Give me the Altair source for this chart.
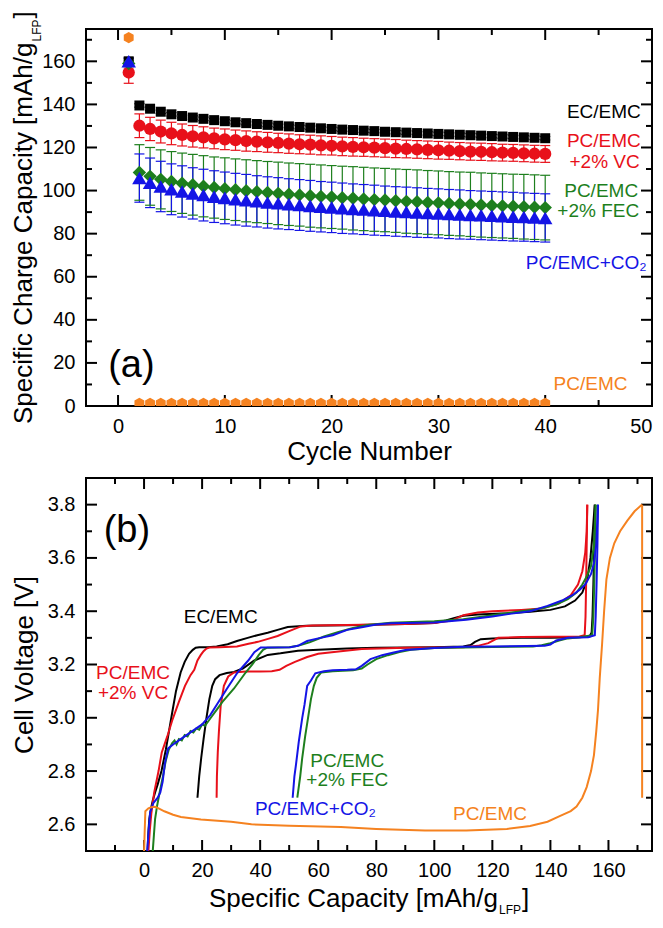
import altair as alt
import pandas as pd

FONT = "Liberation Sans"
W = 566
H1 = 377
H2 = 373

# ---------------- panel (a): capacity vs cycle ----------------
cycles = [1, 2, 3, 4, 5, 6, 7, 8, 9, 10, 11, 12, 13, 14, 15, 16, 17, 18, 19, 20,
          21, 22, 23, 24, 25, 26, 27, 28, 29, 30, 31, 32, 33, 34, 35, 36, 37, 38, 39, 40]
series_a = ["EC/EMC", "PC/EMC +2% VC", "PC/EMC +2% FEC", "PC/EMC+CO2", "PC/EMC"]
colors = ["#000000", "#e8101a", "#1d7f1d", "#1414e6", "#f58220"]

cap_ec = [160.0, 139.5, 138.0, 136.6, 135.4, 134.6, 133.9, 133.3, 132.7, 132.2, 131.7, 131.3, 130.9, 130.5,
          130.1, 129.8, 129.5, 129.2, 128.9, 128.6, 128.3, 128.1, 127.8, 127.6, 127.3, 127.1, 126.9, 126.7,
          126.5, 126.3, 126.1, 125.9, 125.7, 125.5, 125.3, 125.1, 124.9, 124.7, 124.5, 124.3]
err_ec = [1.5, 0.8, 0.8, 0.8, 0.8, 0.8, 0.8, 0.8, 0.8, 0.8, 0.8, 0.8, 0.8, 0.8, 0.8, 0.8, 0.8, 0.8, 0.8, 0.8,
          0.8, 0.8, 0.8, 0.8, 0.8, 0.8, 0.8, 0.8, 0.8, 0.8, 0.8, 0.8, 0.8, 0.8, 0.8, 0.8, 0.8, 0.8, 0.8, 0.8]
cap_vc = [154.8, 130.1, 128.6, 127.4, 126.5, 125.8, 125.2, 124.7, 124.2, 123.8, 123.4, 123.0, 122.7, 122.4,
          122.1, 121.8, 121.5, 121.3, 121.0, 120.8, 120.5, 120.3, 120.1, 119.9, 119.7, 119.5, 119.3, 119.1,
          118.9, 118.7, 118.5, 118.3, 118.1, 118.0, 117.8, 117.6, 117.5, 117.3, 117.1, 117.0]
err_vc = [5.0, 5.5, 5.4, 5.3, 5.2, 5.1, 5.0, 4.9, 4.8, 4.8, 4.7, 4.7, 4.6, 4.6, 4.5, 4.5, 4.4, 4.4, 4.4, 4.3,
          4.3, 4.3, 4.2, 4.2, 4.2, 4.2, 4.1, 4.1, 4.1, 4.1, 4.0, 4.0, 4.0, 4.0, 4.0, 3.9, 3.9, 3.9, 3.9, 3.9]
cap_fec = [159.0, 108.4, 106.6, 105.2, 104.2, 103.4, 102.7, 102.0, 101.4, 100.9, 100.4, 99.9, 99.5, 99.1,
           98.7, 98.3, 98.0, 97.6, 97.3, 97.0, 96.7, 96.4, 96.1, 95.8, 95.6, 95.3, 95.0, 94.8, 94.5, 94.3,
           94.0, 93.8, 93.6, 93.3, 93.1, 92.9, 92.7, 92.5, 92.3, 92.1]
err_fec = [1.5, 12.9, 13.4, 13.7, 13.9, 14.0, 14.1, 14.2, 14.2, 14.3, 14.3, 14.4, 14.4, 14.4, 14.5, 14.5,
           14.5, 14.6, 14.6, 14.6, 14.6, 14.7, 14.7, 14.7, 14.7, 14.7, 14.8, 14.8, 14.8, 14.8, 14.8, 14.8,
           14.9, 14.9, 14.9, 14.9, 14.9, 15.0, 15.0, 15.0]
cap_co2 = [160.0, 105.8, 103.6, 101.9, 100.6, 99.6, 98.7, 97.9, 97.2, 96.6, 96.0, 95.5, 95.0, 94.5, 94.1,
           93.7, 93.3, 92.9, 92.5, 92.2, 91.8, 91.5, 91.2, 90.9, 90.6, 90.3, 90.1, 89.8, 89.6, 89.4, 89.1,
           88.9, 88.7, 88.5, 88.3, 88.1, 87.9, 87.7, 87.5, 87.3]
err_co2 = [1.5, 11.2, 11.5, 11.7, 11.8, 11.9, 11.9, 12.0, 12.0, 12.0, 12.0, 12.0, 11.9, 11.9, 11.9, 11.8,
           11.8, 11.8, 11.7, 11.7, 11.7, 11.6, 11.6, 11.6, 11.5, 11.5, 11.5, 11.5, 11.4, 11.4, 11.4, 11.4,
           11.3, 11.3, 11.3, 11.3, 11.3, 11.2, 11.2, 11.2]
cap_pc = [171.0, 1.2, 1.2, 1.2, 1.2, 1.2, 1.2, 1.2, 1.2, 1.2, 1.2, 1.2, 1.2, 1.2, 1.2, 1.2, 1.2, 1.2, 1.2, 1.2,
          1.2, 1.2, 1.2, 1.2, 1.2, 1.2, 1.2, 1.2, 1.2, 1.2, 1.2, 1.2, 1.2, 1.2, 1.2, 1.2, 1.2, 1.2, 1.2, 1.2]
err_pc = [0, 0, 0, 0, 0, 0, 0, 0, 0, 0, 0, 0, 0, 0, 0, 0, 0, 0, 0, 0,
          0, 0, 0, 0, 0, 0, 0, 0, 0, 0, 0, 0, 0, 0, 0, 0, 0, 0, 0, 0]

a_x_major = [0, 10, 20, 30, 40, 50]
a_x_minor = [5, 15, 25, 35, 45]
a_y_major = [0, 20, 40, 60, 80, 100, 120, 140, 160]
a_y_minor = [10, 30, 50, 70, 90, 110, 130, 150, 170]

# ---------------- panel (b): voltage profiles ----------------
ec_chg_x = [1.2, 1.5, 1.8, 2.4, 3.0, 3.8, 4.7, 6.0, 7.5, 8.6, 9.7, 11.0, 12.6, 14.0, 15.5, 16.8, 17.8, 19.0,
            22.0, 25.0, 28.8, 32.0, 35.7, 39.0, 42.6, 46.0, 49.5, 52.0, 56.0, 70.0, 90.0, 100.0, 104.0, 107.0,
            110.0, 115.0, 125.0, 133.0, 140.0, 145.0, 148.5, 151.0, 152.7, 153.8, 154.6, 155.0, 155.3]
ec_chg_v = [2.50, 2.57, 2.62, 2.66, 2.69, 2.72, 2.75, 2.80, 2.88, 2.95, 3.02, 3.10, 3.17, 3.21, 3.24, 3.255,
            3.263, 3.265, 3.265, 3.268, 3.276, 3.288, 3.300, 3.310, 3.319, 3.330, 3.341, 3.343, 3.345, 3.347,
            3.352, 3.356, 3.365, 3.375, 3.383, 3.388, 3.392, 3.398, 3.405, 3.418, 3.44, 3.47, 3.52, 3.60,
            3.70, 3.76, 3.80]
ec_dis_x = [155.3, 155.1, 154.8, 154.5, 154.2, 153.5, 150.0, 140.0, 130.0, 120.0, 116.0, 114.0, 112.5, 110.0,
            100.0, 80.0, 70.0, 60.0, 53.0, 47.0, 42.6, 38.0, 34.0, 31.0, 28.5, 26.0, 24.5, 23.5, 22.5, 21.5,
            20.5, 19.7, 19.0, 18.4]
ec_dis_v = [3.80, 3.65, 3.50, 3.38, 3.32, 3.305, 3.302, 3.300, 3.300, 3.298, 3.295, 3.285, 3.273, 3.268,
            3.265, 3.263, 3.260, 3.255, 3.252, 3.242, 3.236, 3.215, 3.185, 3.172, 3.168, 3.160, 3.145, 3.120,
            3.070, 3.000, 2.920, 2.850, 2.780, 2.700]
vc_chg_x = [1.5, 2.0, 2.5, 3.5, 5.0, 6.1, 8.0, 9.7, 12.0, 14.1, 16.0, 17.3, 18.4, 19.5, 20.5, 21.5, 22.5, 26.0,
            32.0, 36.0, 39.2, 43.0, 46.0, 50.0, 54.0, 58.0, 70.0, 90.0, 100.0, 106.0, 110.0, 115.0, 120.0,
            130.0, 137.0, 143.0, 147.0, 149.5, 151.0, 152.0, 152.5, 152.7]
vc_chg_v = [2.50, 2.58, 2.64, 2.72, 2.80, 2.87, 2.93, 2.99, 3.06, 3.12, 3.16, 3.18, 3.215, 3.235, 3.25, 3.26,
            3.264, 3.265, 3.268, 3.278, 3.285, 3.297, 3.307, 3.325, 3.343, 3.346, 3.348, 3.352, 3.356, 3.365,
            3.385, 3.395, 3.40, 3.405, 3.41, 3.43, 3.46, 3.50, 3.55, 3.62, 3.70, 3.80]
vc_dis_x = [152.7, 152.5, 152.3, 152.1, 151.8, 150.0, 130.0, 122.0, 118.6, 115.0, 110.0, 90.0, 75.0, 67.8,
            60.0, 56.2, 52.0, 49.0, 46.7, 44.0, 40.0, 35.0, 31.0, 29.0, 27.5, 26.4, 25.8, 25.4, 25.1, 25.0]
vc_dis_v = [3.80, 3.65, 3.50, 3.38, 3.31, 3.305, 3.303, 3.300, 3.28, 3.27, 3.265, 3.263, 3.258, 3.25, 3.24,
            3.228, 3.21, 3.195, 3.18, 3.175, 3.174, 3.174, 3.17, 3.155, 3.12, 3.045, 2.95, 2.87, 2.78, 2.70]
fec_chg_x = [3.0, 3.4, 3.8, 4.5, 5.3, 6.5, 7.5, 8.5, 9.7, 10.5, 11.2, 12.0, 13.0, 14.0, 15.0, 16.0, 17.0,
             18.0, 19.0, 20.0, 21.0, 23.0, 25.0, 27.0, 29.0, 31.0, 33.0, 35.0, 37.3, 39.5, 41.0, 42.4, 50.0,
             53.0, 57.0, 62.0, 67.0, 72.0, 77.0, 85.0, 100.0, 110.0, 120.0, 130.0, 137.0, 142.0, 146.0,
             149.0, 151.0, 152.5, 154.0, 155.0, 155.6]
fec_chg_v = [2.50, 2.56, 2.62, 2.67, 2.716, 2.78, 2.84, 2.88, 2.905, 2.915, 2.90, 2.92, 2.915, 2.935, 2.93,
             2.95, 2.945, 2.96, 2.955, 2.975, 2.97, 3.00, 3.03, 3.06, 3.085, 3.11, 3.14, 3.17, 3.20, 3.235,
             3.255, 3.263, 3.265, 3.27, 3.283, 3.305, 3.322, 3.337, 3.348, 3.357, 3.362, 3.37, 3.385, 3.40,
             3.41, 3.425, 3.445, 3.47, 3.50, 3.53, 3.57, 3.65, 3.80]
fec_dis_x = [155.6, 155.4, 155.1, 154.8, 154.4, 150.0, 146.0, 143.0, 140.0, 137.0, 134.0, 120.0, 100.0, 92.0,
             88.0, 84.0, 80.0, 77.0, 75.0, 72.0, 65.0, 61.0, 59.5, 58.5, 57.5, 56.5, 55.5, 54.5, 53.8, 52.8]
fec_dis_v = [3.80, 3.65, 3.50, 3.38, 3.31, 3.302, 3.298, 3.29, 3.28, 3.272, 3.268, 3.266, 3.262, 3.255,
             3.247, 3.235, 3.22, 3.20, 3.185, 3.178, 3.175, 3.17, 3.15, 3.12, 3.07, 3.00, 2.93, 2.85, 2.78,
             2.70]
co2_chg_x = [1.1, 1.6, 2.1, 3.2, 4.7, 5.6, 6.4, 7.2, 8.3, 10.0, 12.0, 14.0, 16.0, 18.0, 20.0, 22.8, 25.7,
             28.6, 32.2, 35.9, 38.0, 40.2, 50.4, 53.0, 56.2, 60.0, 65.0, 70.0, 75.0, 80.0, 85.0, 100.0, 111.0,
             120.0, 126.0, 133.0, 139.0, 144.0, 147.6, 150.0, 152.0, 154.0, 155.0, 155.8, 156.4]
co2_chg_v = [2.50, 2.58, 2.646, 2.68, 2.70, 2.72, 2.76, 2.83, 2.885, 2.90, 2.915, 2.93, 2.945, 2.96, 2.975,
             3.01, 3.06, 3.11, 3.17, 3.215, 3.246, 3.264, 3.265, 3.27, 3.288, 3.298, 3.31, 3.33, 3.34, 3.35,
             3.355, 3.358, 3.368, 3.38, 3.39, 3.40, 3.42, 3.44, 3.46, 3.48, 3.50, 3.54, 3.58, 3.65, 3.80]
co2_dis_x = [156.4, 156.2, 155.9, 155.6, 155.3, 153.0, 146.0, 142.0, 140.0, 138.0, 120.0, 110.0, 100.0, 95.0,
             90.0, 86.0, 82.0, 78.0, 75.0, 73.0, 70.0, 65.0, 62.0, 59.0, 57.5, 56.2, 55.3, 54.5, 53.3, 52.3,
             51.8, 51.2]
co2_dis_v = [3.80, 3.65, 3.50, 3.38, 3.31, 3.302, 3.300, 3.29, 3.275, 3.27, 3.268, 3.267, 3.262, 3.258,
             3.254, 3.245, 3.235, 3.22, 3.195, 3.182, 3.18, 3.178, 3.175, 3.167, 3.14, 3.12, 3.05, 3.00, 2.91,
             2.82, 2.78, 2.70]
pc_chg_x = [0.0, 0.45, 1.5, 2.5, 3.8, 5.0, 7.0, 10.0, 12.7, 19.6, 30.0, 37.0, 50.0, 67.8, 80.0, 96.8, 111.0,
            125.0, 133.0, 139.0, 143.0, 147.0, 149.0, 151.0, 152.5, 154.0, 155.0, 155.8, 156.4, 157.0, 157.8,
            158.5, 159.3, 160.5, 162.0, 164.0, 166.5, 169.0, 171.0, 171.6]
pc_chg_v = [2.50, 2.649, 2.66, 2.664, 2.666, 2.66, 2.649, 2.636, 2.628, 2.618, 2.61, 2.60, 2.595, 2.59, 2.583,
            2.577, 2.577, 2.583, 2.594, 2.61, 2.63, 2.65, 2.667, 2.70, 2.74, 2.80, 2.86, 2.95, 3.03, 3.15,
            3.276, 3.40, 3.52, 3.60, 3.655, 3.70, 3.74, 3.775, 3.795, 3.80]
pc_dis_x = [171.6, 171.6]
pc_dis_v = [3.80, 2.70]

b_x_major = [0, 20, 40, 60, 80, 100, 120, 140, 160]
b_x_minor = [-10, 10, 30, 50, 70, 90, 110, 130, 150, 170]
b_y_major = [2.6, 2.8, 3.0, 3.2, 3.4, 3.6, 3.8]
b_y_minor = [2.7, 2.9, 3.1, 3.3, 3.5, 3.7]

# ---------------- domains ----------------
XA_DOM = [-3, 50]
YA_DOM = [0, 175]
XB_DOM = [-20, 175]
YB_DOM = [2.5, 3.9]


def tick_segments(xmaj, xmin, ymaj, ymin, xdom, ydom, H):
    """Inward frame-tick segments on all four sides, in data units (lengths given in pixels)."""
    ky = (ydom[1] - ydom[0]) / H
    kx = (xdom[1] - xdom[0]) / W
    vert, horiz = [], []
    for vals, ln in ((xmaj, 11.0), (xmin, 6.0)):
        for t in vals:
            vert.append((t, ydom[0], ydom[0] + ln * ky))
            vert.append((t, ydom[1], ydom[1] - ln * ky))
    for vals, ln in ((ymaj, 11.0), (ymin, 6.0)):
        for t in vals:
            horiz.append((t, xdom[0], xdom[0] + ln * kx))
            horiz.append((t, xdom[1], xdom[1] - ln * kx))
    return vert, horiz


# ---------------- tables ----------------
rows = []
vseg, hseg = [], []
for name, vals, errs in zip(series_a, [cap_ec, cap_vc, cap_fec, cap_co2, cap_pc],
                            [err_ec, err_vc, err_fec, err_co2, err_pc]):
    for c, v, e in zip(cycles, vals, errs):
        rows.append({"series": name, "cycle": c, "cap": v})
        if e > 0:
            vseg.append({"series": name, "x0": c, "y0": v - e, "y1": v + e, "w": 1.2})
            hseg.append({"series": name, "x0": c - 0.47, "x1": c + 0.47, "y0": v + e, "w": 1.2})
            hseg.append({"series": name, "x0": c - 0.47, "x1": c + 0.47, "y0": v - e, "w": 1.2})
dfA = pd.DataFrame(rows)

vtA, htA = tick_segments(a_x_major, a_x_minor, a_y_major, a_y_minor, XA_DOM, YA_DOM, H1)
for t, a, b in vtA:
    vseg.append({"series": "frame", "x0": t, "y0": a, "y1": b, "w": 2.0})
for t, a, b in htA:
    hseg.append({"series": "frame", "x0": a, "x1": b, "y0": t, "w": 2.0})
dfV = pd.DataFrame(vseg)
dfH = pd.DataFrame(hseg)

curves = [
    ("EC/EMC", "ec_c", ec_chg_x, ec_chg_v), ("EC/EMC", "ec_d", ec_dis_x, ec_dis_v),
    ("PC/EMC +2% VC", "vc_c", vc_chg_x, vc_chg_v), ("PC/EMC +2% VC", "vc_d", vc_dis_x, vc_dis_v),
    ("PC/EMC +2% FEC", "fec_c", fec_chg_x, fec_chg_v), ("PC/EMC +2% FEC", "fec_d", fec_dis_x, fec_dis_v),
    ("PC/EMC+CO2", "co2_c", co2_chg_x, co2_chg_v), ("PC/EMC+CO2", "co2_d", co2_dis_x, co2_dis_v),
    ("PC/EMC", "pc_c", pc_chg_x, pc_chg_v), ("PC/EMC", "pc_d", pc_dis_x, pc_dis_v),
]
rowsB = []
vtB, htB = tick_segments(b_x_major, b_x_minor, b_y_major, b_y_minor, XB_DOM, YB_DOM, H2)
k = 0
for t, a, b in vtB:
    rowsB.append({"series": "frame", "curve": "tk%d" % k, "idx": 0, "q": t, "v": a})
    rowsB.append({"series": "frame", "curve": "tk%d" % k, "idx": 1, "q": t, "v": b})
    k += 1
for t, a, b in htB:
    rowsB.append({"series": "frame", "curve": "tk%d" % k, "idx": 0, "q": a, "v": t})
    rowsB.append({"series": "frame", "curve": "tk%d" % k, "idx": 1, "q": b, "v": t})
    k += 1
for name, cid, xs, vs in curves:
    for i, (x, v) in enumerate(zip(xs, vs)):
        rowsB.append({"series": name, "curve": cid, "idx": i, "q": x, "v": v})
dfB = pd.DataFrame(rowsB)

dummy = pd.DataFrame({"d": [0]})

# ---------------- scales / axes ----------------
xsA = alt.Scale(domain=XA_DOM, nice=False, zero=False)
ysA = alt.Scale(domain=YA_DOM, nice=False, zero=False)
xsB = alt.Scale(domain=XB_DOM, nice=False, zero=False)
ysB = alt.Scale(domain=YB_DOM, nice=False, zero=False)

axXA = alt.Axis(values=a_x_major, format="d", title="Cycle Number", titleX=W / 2, titleY=53,
                titleBaseline="alphabetic", titleAlign="center", labelPadding=10)
axYA = alt.Axis(values=a_y_major, format="d", title=None, labelPadding=11)
axXB = alt.Axis(values=b_x_major, format="d", title=None, labelPadding=9)
axYB = alt.Axis(values=b_y_major, format=".1f", title="Cell Voltage [V]", titleAngle=270, titleX=-54,
                titleY=H2 / 2, titleBaseline="alphabetic", titleAlign="center", labelPadding=11)

colA = alt.Color("series:N", scale=alt.Scale(domain=series_a + ["frame"], range=colors + ["#000000"]),
                 legend=None)
widthEnc = alt.StrokeWidth("w:Q", scale=None, legend=None)


def XA(f):
    return alt.X(f, type="quantitative", scale=xsA, axis=axXA)


def YA(f):
    return alt.Y(f, type="quantitative", scale=ysA, axis=axYA)


def XB(f):
    return alt.X(f, type="quantitative", scale=xsB, axis=axXB)


def YB(f):
    return alt.Y(f, type="quantitative", scale=ysB, axis=axYB)


def dXA(v):
    return alt.XDatum(v, type="quantitative", scale=xsA, axis=axXA)


def dYA(v):
    return alt.YDatum(v, type="quantitative", scale=ysA, axis=axYA)


def dXB(v):
    return alt.XDatum(v, type="quantitative", scale=xsB, axis=axXB)


def dYB(v):
    return alt.YDatum(v, type="quantitative", scale=ysB, axis=axYB)


def dtext(text, color, x, y, align, size, X, Y):
    return alt.Chart(dummy).mark_text(text=text, color=color, align=align, baseline="middle",
                                      font=FONT, fontSize=size).encode(x=X(x), y=Y(y))


def ptext(text, x, y, align, size, angle=0):
    return alt.Chart(dummy).mark_text(text=text, color="black", align=align, baseline="alphabetic",
                                      font=FONT, fontSize=size, angle=angle).encode(
        x=alt.value(x), y=alt.value(y))


# ---------------- panel (a) layers ----------------
vrules = alt.Chart(dfV).mark_rule(clip=True).encode(
    x=XA("x0"), y=YA("y0"), y2="y1:Q", color=colA, strokeWidth=widthEnc)
hrules = alt.Chart(dfH).mark_rule(clip=True).encode(
    x=XA("x0"), x2="x1:Q", y=YA("y0"), color=colA, strokeWidth=widthEnc)

hexagon = "M0,-1L0.866,-0.5L0.866,0.5L0,1L-0.866,0.5L-0.866,-0.5Z"
shapes = ["square", "circle", "diamond", "triangle-up", hexagon]
sizes = [100, 150, 180, 210, 130]
markers = []
for name, col, shp, sz in zip(series_a, colors, shapes, sizes):
    markers.append(alt.Chart(dfA[dfA.series == name]).mark_point(
        shape=shp, size=sz, color=col, filled=True, opacity=1, strokeWidth=0, clip=True).encode(
        x=XA("cycle"), y=YA("cap")))

ann_a = [
    dtext("EC/EMC", colors[0], 48.95, 136.4, "right", 19, dXA, dYA),
    dtext("PC/EMC", colors[1], 48.95, 123.1, "right", 19, dXA, dYA),
    dtext("+2% VC", colors[1], 48.85, 113.2, "right", 19, dXA, dYA),
    dtext("PC/EMC", colors[2], 48.7, 99.6, "right", 19, dXA, dYA),
    dtext("+2% FEC", colors[2], 48.8, 90.3, "right", 19, dXA, dYA),
    dtext("PC/EMC+CO₂", colors[3], 49.5, 66.6, "right", 19, dXA, dYA),
    dtext("PC/EMC", colors[4], 47.7, 10.4, "right", 19, dXA, dYA),
    dtext("(a)", "black", 1.25, 18.5, "center", 38, dXA, dYA),
]
ytitle_a = [
    ptext("Specific Charge Capacity [mAh/g", -54, 13.5, "right", 26, 270),
    ptext("LFP", -45, 12.5, "left", 12, 270),
    ptext("]", -54, -10.5, "left", 26, 270),
]

panel_a = alt.layer(vrules, hrules, *markers, *ann_a, *ytitle_a).properties(width=W, height=H1)

# ---------------- panel (b) layers ----------------
lines = alt.Chart(dfB).mark_line(strokeWidth=2, clip=True).encode(
    x=XB("q"), y=YB("v"), color=colA, detail="curve:N", order="idx:Q")

ann_b = [
    dtext("EC/EMC", colors[0], 26.4, 3.377, "center", 19, dXB, dYB),
    dtext("PC/EMC", colors[1], -3.8, 3.167, "center", 19, dXB, dYB),
    dtext("+2% VC", colors[1], -3.8, 3.094, "center", 19, dXB, dYB),
    dtext("PC/EMC", colors[2], 70.0, 2.838, "center", 19, dXB, dYB),
    dtext("+2% FEC", colors[2], 70.0, 2.767, "center", 19, dXB, dYB),
    dtext("PC/EMC+CO₂", colors[3], 38.2, 2.659, "left", 19, dXB, dYB),
    dtext("PC/EMC", colors[4], 119.2, 2.637, "center", 19, dXB, dYB),
    dtext("(b)", "black", -5.9, 3.70, "center", 38, dXB, dYB),
]
xtitle_b = [
    ptext("Specific Capacity [mAh/g", 412, H2 + 56, "right", 26),
    ptext("LFP", 413, H2 + 63, "left", 12),
    ptext("]", 436, H2 + 56, "left", 26),
]

panel_b = alt.layer(lines, *ann_b, *xtitle_b).properties(width=W, height=H2)

chart = alt.vconcat(panel_a, panel_b, spacing=12).properties(
    padding={"left": 2, "top": 2, "right": 2, "bottom": 0}
).configure_view(stroke="black", strokeWidth=2).configure_axis(
    labelFont=FONT, titleFont=FONT, labelColor="black", titleColor="black", domain=False, ticks=False,
    grid=False, labelFontSize=20, titleFontSize=26, titleFontWeight="normal"
)

chart.save("out.html", embed_options={"renderer": "svg", "actions": False})
